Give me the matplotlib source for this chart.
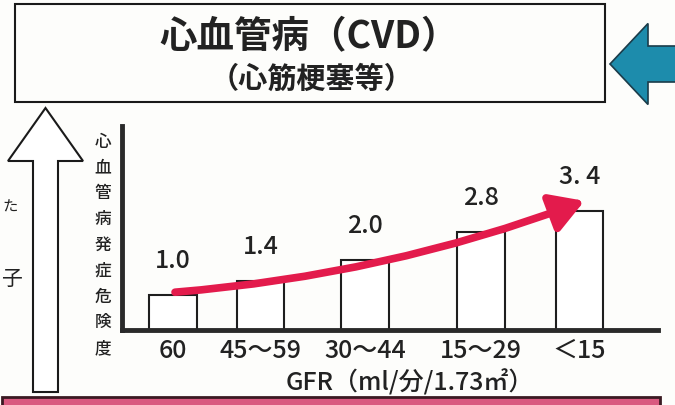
import matplotlib
matplotlib.use('Agg')
import matplotlib.pyplot as plt
from matplotlib.patches import Rectangle, FancyArrow, FancyArrowPatch

W, H = 675, 406

# data
categories = ['60', '45〜59', '30〜44', '15〜29', '＜15']
risk = [1.0, 1.4, 2.0, 2.8, 3.4]
risk_labels = ['1.0', '1.4', '2.0', '2.8', '3. 4']
title = '心血管病（CVD）'
subtitle = '（心筋梗塞等）'
ylabel = '心血管病発症危険度'
xlabel = 'GFR（ml/分/1.73㎡）'
side_text = ['た', '子']

# where each bar sits along the axis (the original spacing is uneven)
slots = [0, 0.86, 1.89, 3.03, 4.0]

plt.rcParams['font.family'] = ['Noto Sans CJK JP', 'DejaVu Sans']
ink = '#222222'

fig = plt.figure(figsize=(W / 100, H / 100), dpi=100, facecolor='#fdfdfb')

# overlay in pixel coords for the diagram parts
bg = fig.add_axes([0, 0, 1, 1])
bg.set_xlim(0, W)
bg.set_ylim(H, 0)
bg.axis('off')

# title box
bg.add_patch(Rectangle((15, 5), 590, 98, fill=False, edgecolor='#1a1a1a', lw=1.5))
bg.text(309, 37, title, ha='center', va='center', fontsize=27, fontweight='bold', color=ink)
bg.text(312, 79, subtitle, ha='center', va='center', fontsize=21, fontweight='bold', color=ink)

# blue arrow on the right
bg.add_patch(FancyArrow(690, 65, -80, 0, width=36, head_width=81, head_length=38,
                        length_includes_head=True, facecolor='#1d8cac', edgecolor='#1b3c4a', lw=1.2))

# big hollow arrow on the left
bg.add_patch(FancyArrow(45.5, 393, 0, -284, width=25, head_width=75, head_length=53,
                        length_includes_head=True, facecolor='white', edgecolor='#1a1a1a', lw=1.5))

# pink band at the bottom
bg.add_patch(Rectangle((2, 398), 658, 20, facecolor='#d95a80', edgecolor='#3a1a22', lw=2))

# side text next to the big arrow
bg.text(2, 207, side_text[0], ha='left', va='center', fontsize=11, color=ink)
bg.text(1, 279, side_text[1], ha='left', va='center', fontsize=15, color=ink)

# vertical y label, one character per line
for i, ch in enumerate(ylabel):
    bg.text(103, 142 + i * 25.75, ch, ha='center', va='center', fontsize=12,
            fontweight='medium', color=ink)

# chart
x0, y0, x1, y1 = 122, 127, 658, 331
ax = fig.add_axes([x0 / W, 1 - y1 / H, (x1 - x0) / W, (y1 - y0) / H])
ax.set_facecolor('none')
unit = 101.6
ax.set_xlim((x0 - 173) / unit, (x1 - 173) / unit)
ax.set_ylim(0, (y1 - y0) / 35)

ax.bar(slots, risk, width=0.47, color='white', edgecolor='#1e1e1e', linewidth=1.5, zorder=2)
for s, v, lbl in zip(slots, risk, risk_labels):
    ax.annotate(lbl, (s, v), xytext=(0, 25), textcoords='offset points',
                ha='center', va='center', fontsize=18, fontweight='medium', color=ink)

for side in ['top', 'right']:
    ax.spines[side].set_visible(False)
for side in ['left', 'bottom']:
    ax.spines[side].set_linewidth(3.5)
    ax.spines[side].set_color('#2a2a2a')
ax.set_yticks([])
ax.set_xticks(slots, categories, fontsize=18, fontweight='medium', color=ink)
ax.tick_params(axis='x', length=0, pad=5)
ax.set_xlabel(xlabel, fontsize=18, fontweight='medium', color=ink, va='center')
ax.xaxis.set_label_coords((410 - x0) / (x1 - x0), -(383 - y1) / (y1 - y0))

# red trend arrow from the first bar to the last
arrow = FancyArrowPatch((slots[0] + 0.02, risk[0] + 0.08), (slots[-1] + 0.05, risk[-1] + 0.29),
                        connectionstyle='arc3,rad=0.07',
                        arrowstyle='-|>,head_length=1.1,head_width=0.65', mutation_scale=18,
                        color='#e31b4c', lw=5.5, shrinkA=0, shrinkB=0, zorder=4, clip_on=False)
ax.add_patch(arrow)

fig.savefig('out.png', dpi=100, facecolor=fig.get_facecolor())
